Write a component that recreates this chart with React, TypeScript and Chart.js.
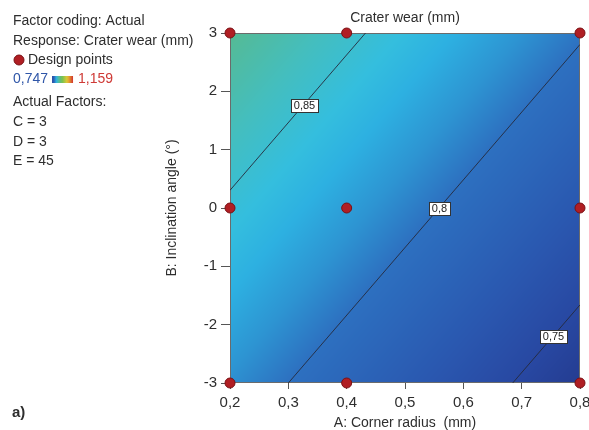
import { useEffect, useRef } from "react";
import { Chart, registerables } from "chart.js";

Chart.register(...registerables);

const FONT = '"Liberation Sans", Arial, sans-serif';
const TEXT = "#2e2e2e";

// Axis ticks: A = corner radius (mm), B = inclination angle (°)
const radiusTicks = [0.2, 0.3, 0.4, 0.5, 0.6, 0.7, 0.8];
const angleTicks = [-3, -2, -1, 0, 1, 2, 3];

// Design points (A, B)
const designRadius = [0.2, 0.4, 0.8, 0.2, 0.4, 0.8, 0.2, 0.4, 0.8];
const designAngle = [3, 3, 3, 0, 0, 0, -3, -3, -3];

// Fitted crater wear model at C = 3, D = 3, E = 45: wear = b0 + bA*A + bB*B
const modelTerms = [0.8726, -0.13, 0.0112];

// Contour levels, their labels and the angle where each label sits
const contourLevels = [0.85, 0.8, 0.75];
const contourLabels = ["0,85", "0,8", "0,75"];
const contourLabelAngle = [1.77, 0, -2.2];

// Colour bar limits
const responseRange = [0.747, 1.159];
const responseRangeLabels = ["0,747", "1,159"];

// Colour map of the response surface
const palette: [number, [number, number, number]][] = [
  [0.735, [36, 60, 145]],
  [0.75, [40, 72, 162]],
  [0.77, [42, 88, 176]],
  [0.8, [45, 112, 192]],
  [0.815, [45, 148, 210]],
  [0.83, [45, 176, 225]],
  [0.842, [52, 190, 222]],
  [0.86, [68, 190, 190]],
  [0.88, [85, 186, 148]],
  [0.95, [120, 195, 80]],
  [1.05, [235, 200, 50]],
  [1.159, [210, 50, 45]],
];

const wear = (a: number, b: number) => modelTerms[0] + modelTerms[1] * a + modelTerms[2] * b;

function colorAt(v: number): [number, number, number] {
  if (v <= palette[0][0]) return palette[0][1];
  for (let i = 1; i < palette.length; i++) {
    const [v1, c1] = palette[i];
    if (v <= v1) {
      const [v0, c0] = palette[i - 1];
      const t = (v - v0) / (v1 - v0);
      return [0, 1, 2].map((k) => c0[k] + (c1[k] - c0[k]) * t) as [number, number, number];
    }
  }
  return palette[palette.length - 1][1];
}

// Where a contour level crosses the edges of the design space
function contourSegment(level: number) {
  const [b0, bA, bB] = modelTerms;
  const aMin = radiusTicks[0], aMax = radiusTicks[radiusTicks.length - 1];
  const bMin = angleTicks[0], bMax = angleTicks[angleTicks.length - 1];
  const pts: { x: number; y: number }[] = [];
  for (const a of [aMin, aMax]) {
    const b = (level - b0 - bA * a) / bB;
    if (b >= bMin && b <= bMax) pts.push({ x: a, y: b });
  }
  for (const b of [bMin, bMax]) {
    const a = (level - b0 - bB * b) / bA;
    if (a > aMin && a < aMax) pts.push({ x: a, y: b });
  }
  return pts.sort((p, q) => p.x - q.x);
}

const surfacePlugin = {
  id: "surface",
  beforeDatasetsDraw(chart: any) {
    const { ctx, chartArea, scales } = chart;
    const left = Math.round(chartArea.left), top = Math.round(chartArea.top);
    const w = Math.round(chartArea.right) - left, h = Math.round(chartArea.bottom) - top;
    const img = ctx.createImageData(w, h);
    for (let j = 0; j < h; j++) {
      const b = scales.y.getValueForPixel(top + j + 0.5);
      for (let i = 0; i < w; i++) {
        const a = scales.x.getValueForPixel(left + i + 0.5);
        const c = colorAt(wear(a, b));
        const o = (j * w + i) * 4;
        img.data[o] = c[0];
        img.data[o + 1] = c[1];
        img.data[o + 2] = c[2];
        img.data[o + 3] = 255;
      }
    }
    ctx.putImageData(img, left, top);
    ctx.save();
    ctx.strokeStyle = "#6b6b6b";
    ctx.lineWidth = 1;
    ctx.strokeRect(left + 0.5, top + 0.5, w - 1, h - 1);
    ctx.restore();
  },
};

const labelPlugin = {
  id: "contourLabels",
  afterDatasetsDraw(chart: any) {
    const { ctx, scales } = chart;
    const [b0, bA, bB] = modelTerms;
    ctx.save();
    ctx.font = `11px ${FONT}`;
    ctx.textAlign = "center";
    ctx.textBaseline = "middle";
    contourLevels.forEach((level, i) => {
      const b = contourLabelAngle[i];
      const a = (level - b0 - bB * b) / bA;
      const px = Math.round(scales.x.getPixelForValue(a));
      const py = Math.round(scales.y.getPixelForValue(b));
      const tw = ctx.measureText(contourLabels[i]).width;
      const bw = Math.round(tw + 6), bh = 13;
      const bx = Math.round(px - bw / 2), by = Math.round(py - bh / 2);
      ctx.fillStyle = "#ffffff";
      ctx.fillRect(bx, by, bw, bh);
      ctx.strokeStyle = "#333333";
      ctx.lineWidth = 1;
      ctx.strokeRect(bx + 0.5, by + 0.5, bw, bh);
      ctx.fillStyle = "#222222";
      ctx.fillText(contourLabels[i], px + 0.5, py + 1);
    });
    ctx.restore();
  },
};

const legendPlugin = {
  id: "sideLegend",
  afterDraw(chart: any) {
    const { ctx, chartArea } = chart;
    ctx.save();
    ctx.font = `14px ${FONT}`;
    ctx.textBaseline = "middle";
    ctx.textAlign = "center";
    ctx.fillStyle = TEXT;
    ctx.fillText("Crater wear (mm)", (chartArea.left + chartArea.right) / 2, 18);

    ctx.textAlign = "left";
    ctx.fillText("Factor coding: Actual", 13, 21);
    ctx.fillText("Response: Crater wear (mm)", 13, 41);
    ctx.beginPath();
    ctx.arc(19, 60, 5, 0, Math.PI * 2);
    ctx.fillStyle = "#b01e23";
    ctx.fill();
    ctx.strokeStyle = "#7a1014";
    ctx.stroke();
    ctx.fillStyle = TEXT;
    ctx.fillText("Design points", 28, 60);

    ctx.fillStyle = "#2f56a8";
    ctx.fillText(responseRangeLabels[0], 13, 79);
    const x0 = 13 + ctx.measureText(responseRangeLabels[0]).width + 4;
    const barW = 21;
    const grad = ctx.createLinearGradient(x0, 0, x0 + barW, 0);
    for (let k = 0; k <= 10; k++) {
      const v = responseRange[0] + ((responseRange[1] - responseRange[0]) * k) / 10;
      const c = colorAt(v);
      grad.addColorStop(k / 10, `rgb(${c[0]},${c[1]},${c[2]})`);
    }
    ctx.fillStyle = grad;
    ctx.fillRect(x0, 76, barW, 7);
    ctx.fillStyle = "#cf3a36";
    ctx.fillText(responseRangeLabels[1], x0 + barW + 5, 79);

    ctx.fillStyle = TEXT;
    ctx.fillText("Actual Factors:", 13, 102);
    ctx.fillText("C = 3", 13, 122);
    ctx.fillText("D = 3", 13, 142);
    ctx.fillText("E = 45", 13, 161);

    ctx.font = `bold 15px ${FONT}`;
    ctx.fillText("a)", 12, 413);
    ctx.restore();
  },
};

const fmtRadius = (v: any) => Number(v).toFixed(1).replace(".", ",");

export default function App() {
  const canvasRef = useRef<HTMLCanvasElement | null>(null);

  useEffect(() => {
    if (!canvasRef.current) return;
    const design = designRadius.map((a, i) => ({ x: a, y: designAngle[i] }));
    const contours = contourLevels.map((level) => ({
      data: contourSegment(level),
      showLine: true,
      borderColor: "rgba(38,42,60,0.9)",
      borderWidth: 1,
      pointRadius: 0,
      pointHoverRadius: 0,
    }));

    const chart = new Chart(canvasRef.current, {
      type: "scatter",
      data: {
        datasets: [
          {
            data: design,
            backgroundColor: "#b01e23",
            borderColor: "#7a1014",
            borderWidth: 1,
            pointRadius: 5,
            clip: false,
          } as any,
          ...contours,
        ],
      },
      options: {
        responsive: false,
        animation: false,
        events: [],
        layout: { autoPadding: false, padding: { left: 150, right: 9, top: 33, bottom: 0 } },
        plugins: { legend: { display: false }, tooltip: { enabled: false } },
        scales: {
          x: {
            type: "linear",
            min: radiusTicks[0],
            max: radiusTicks[radiusTicks.length - 1],
            afterBuildTicks: (s: any) => {
              s.ticks = radiusTicks.map((v) => ({ value: v }));
            },
            afterFit: (s: any) => {
              s.height = 47;
              s.paddingLeft = 0;
              s.paddingRight = 0;
            },
            ticks: { callback: fmtRadius, font: { family: FONT, size: 15 }, color: TEXT, padding: 5, maxRotation: 0, autoSkip: false },
            grid: { drawOnChartArea: false, tickLength: 6, tickColor: "#555555", color: "#555555" },
            border: { display: false },
            title: { display: true, text: "A: Corner radius  (mm)", font: { family: FONT, size: 14, lineHeight: 1 }, color: TEXT, padding: 0 },
          },
          y: {
            type: "linear",
            min: angleTicks[0],
            max: angleTicks[angleTicks.length - 1],
            afterBuildTicks: (s: any) => {
              s.ticks = angleTicks.map((v) => ({ value: v }));
            },
            afterFit: (s: any) => {
              s.width = 80;
              s.paddingTop = 0;
              s.paddingBottom = 0;
            },
            ticks: { font: { family: FONT, size: 15 }, color: TEXT, padding: 4, autoSkip: false },
            grid: { drawOnChartArea: false, tickLength: 9, tickColor: "#555555", color: "#555555" },
            border: { display: false },
            title: { display: true, text: "B: Inclination angle (°)", font: { family: FONT, size: 14, lineHeight: 1 }, color: TEXT, padding: { top: 15, bottom: 0 } },
          },
        },
      },
      plugins: [surfacePlugin, labelPlugin, legendPlugin],
    } as any);
    return () => chart.destroy();
  }, []);

  return (
    <div style={{ position: "absolute", left: 0, top: 0, width: 589, height: 430, background: "#ffffff" }}>
      <canvas ref={canvasRef} width={589} height={430} />
    </div>
  );
}
